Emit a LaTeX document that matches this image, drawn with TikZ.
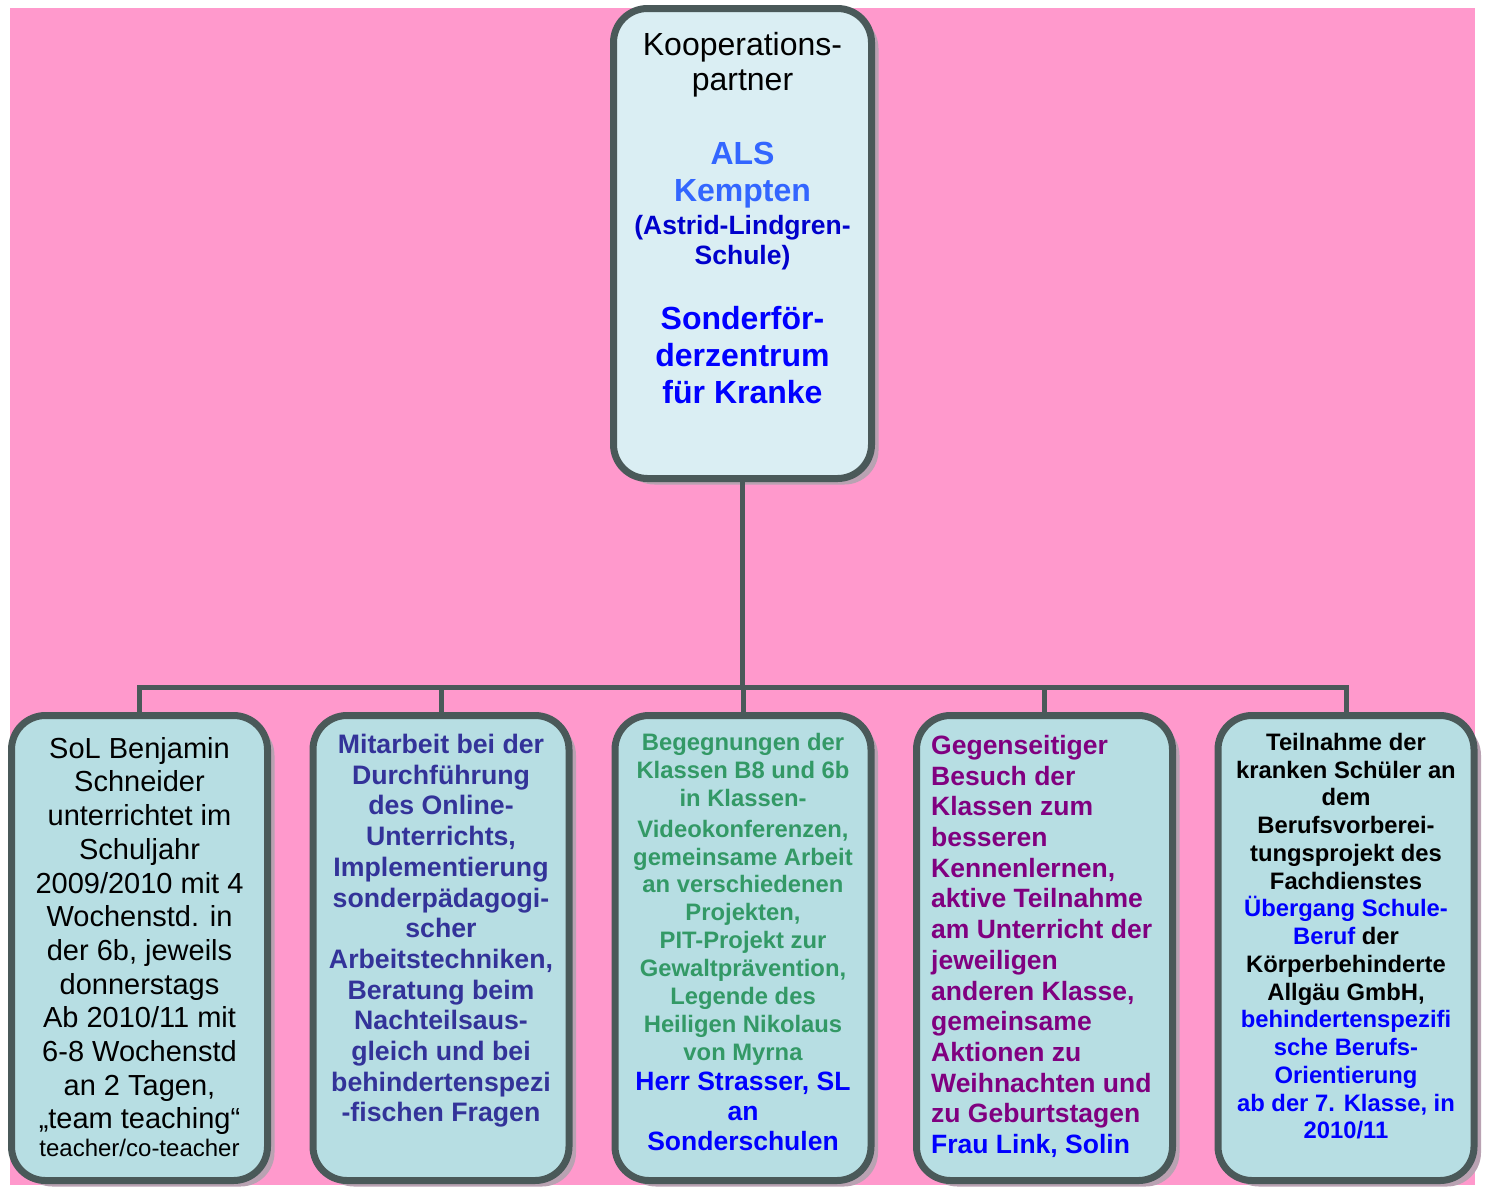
\documentclass[tikz,border=0pt]{standalone}
\usepackage{fontspec}
\setmainfont{Liberation Sans}
\usetikzlibrary{shadows}
\definecolor{bgpink}{HTML}{FF99CC}
\definecolor{rimgrey}{HTML}{4A5959}
\definecolor{paleaqua}{HTML}{DAEEF3}
\definecolor{aqua}{HTML}{B7DEE3}
\definecolor{shadegrey}{HTML}{B9A2B2}
\definecolor{lightblue}{HTML}{3366FF}
\definecolor{darkblue}{HTML}{0000CC}
\definecolor{fullblue}{HTML}{0000FF}
\definecolor{slateblue}{HTML}{333399}
\definecolor{seagreen}{HTML}{339966}
\definecolor{plum}{HTML}{800080}
\newcommand\fsz[2]{\fontsize{#1}{#2}\selectfont}
\begin{document}
\begin{tikzpicture}[x=1pt,y=-1pt,
  box/.style={draw=rimgrey,line width=7pt,rounded corners=34pt,fill=aqua,minimum width=256pt,minimum height=465pt,
    drop shadow={shadow xshift=7pt,shadow yshift=-6pt,fill=shadegrey,opacity=1}},
  txt/.style={inner sep=0pt,align=center,anchor=north},
  conn/.style={draw=rimgrey,line width=5pt}]
\useasboundingbox (0,0) rectangle (1490,1189);
\fill[bgpink](10,8) rectangle (1475,1185);
\node[box,fill=paleaqua,minimum width=258pt,minimum height=470pt] (als) at (742.5,243.5){};
\node[box] (sol) at (139.5,948){};
\node[box] (online) at (441,948){};
\node[box] (begeg) at (743,948){};
\node[box] (besuch) at (1044.5,948){};
\node[box] (beruf) at (1346,948){};
\draw[conn](als.south)--(als.south|-0,687) coordinate (hub);
\foreach \b in {sol,online,begeg,besuch,beruf}
  \draw[conn](hub)-|(\b.north);
\node[txt,font=\fsz{32}{35.5}] (koop) at (742.5,32){Kooperations-\\partner};
\node[txt,font=\fsz{32}{36.5}\bfseries,text=lightblue] (alsname) at (742.5,142){ALS\\Kempten};
\node[txt,font=\fsz{26.5}{30}\bfseries,text=darkblue] (astrid) at (742.5,215){(Astrid-Lindgren-\\Schule)};
\node[txt,font=\fsz{32}{37.2}\bfseries,text=fullblue] (sfz) at (742.5,306){Sonderför-\\derzentrum\\für Kranke};
\node[txt,font=\fsz{29}{33.7}] (soltext) at (139.5,737){SoL Benjamin\\Schneider\\unterrichtet im\\Schuljahr\\2009/2010 mit 4\\Wochenstd. in\\der 6b, jeweils\\donnerstags\\Ab 2010/11 mit\\6-8 Wochenstd\\an 2 Tagen,\\„team teaching“\\[-6pt]{\fsz{24}{27}teacher/co-teacher}};
\node[txt,font=\fsz{26.7}{30.7}\bfseries,text=slateblue] (onlinetext) at (441,734){Mitarbeit bei der\\Durchführung\\des Online-\\Unterrichts,\\Implementierung\\sonderpädagogi-\\scher\\Arbeitstechniken,\\Beratung beim\\Nachteilsaus-\\gleich und bei\\behindertenspezi\\-fischen Fragen};
\node[txt,font=\fsz{23.8}{27.9}\bfseries,text=seagreen] (begegtext) at (743,733){Begegnungen der\\Klassen B8 und 6b\\in Klassen-\\[3pt]Videokonferenzen,\\gemeinsame Arbeit\\an verschiedenen\\Projekten,\\PIT-Projekt zur\\Gewaltprävention,\\Legende des\\Heiligen Nikolaus\\von Myrna};
\node[txt,font=\fsz{26.5}{30}\bfseries,text=fullblue] (strasser) at (743,1072){Herr Strasser, SL\\an\\Sonderschulen};
\node[txt,anchor=north west,align=left,font=\fsz{26.5}{30.7}\bfseries,text=plum] (besuchtext) at (931,735){Gegenseitiger\\Besuch der\\Klassen zum\\besseren\\Kennenlernen,\\aktive Teilnahme\\am Unterricht der\\jeweiligen\\anderen Klasse,\\gemeinsame\\Aktionen zu\\Weihnachten und\\zu Geburtstagen\\\textcolor{fullblue}{Frau Link, Solin}};
\node[txt,font=\fsz{23.8}{27.75}\bfseries] (beruftext) at (1346,733){Teilnahme der\\kranken Schüler an\\dem\\Berufsvorberei-\\tungsprojekt des\\Fachdienstes\\\textcolor{fullblue}{Übergang Schule-}\\\textcolor{fullblue}{Beruf} der\\Körperbehinderte\\Allgäu GmbH,\\\textcolor{fullblue}{behindertenspezifi}\\\textcolor{fullblue}{sche Berufs-}\\\textcolor{fullblue}{Orientierung}\\\textcolor{fullblue}{ab der 7. Klasse, in}\\\textcolor{fullblue}{2010/11}};
\end{tikzpicture}
\end{document}
